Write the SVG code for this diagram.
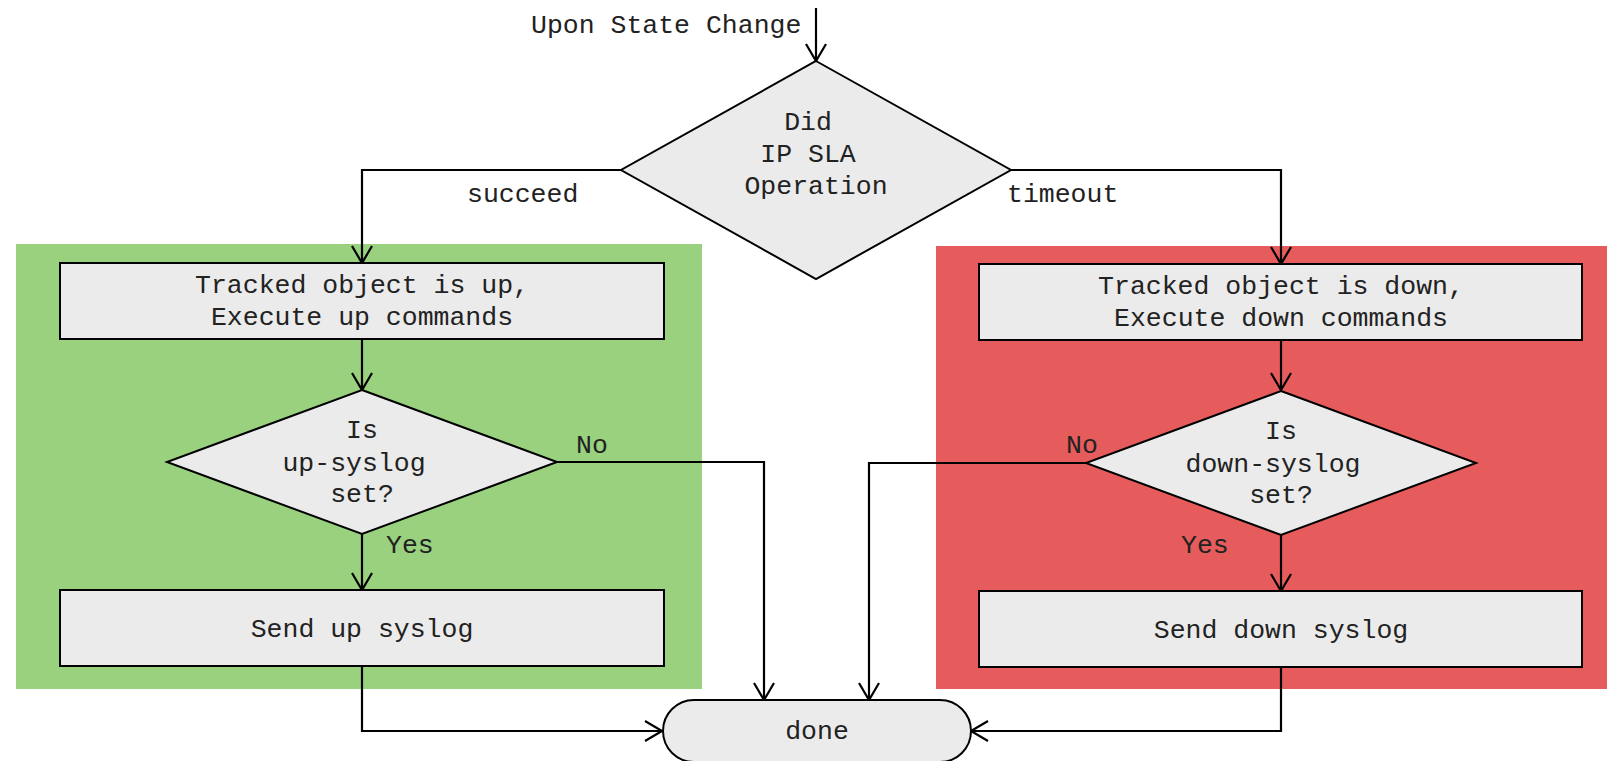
<svg xmlns="http://www.w3.org/2000/svg" width="1607" height="761" viewBox="0 0 1607 761">
<style>
.t{font-family:"Liberation Mono","Courier New",monospace;font-size:26.5px;fill:#222;}
.c{text-anchor:middle;}
.n{fill:#ebebeb;stroke:#000;stroke-width:2;}
.e{fill:none;stroke:#000;stroke-width:2.2;}
</style>
<defs>
<marker id="a" markerUnits="userSpaceOnUse" markerWidth="22" markerHeight="24" viewBox="0 0 22 24" refX="19" refY="12" orient="auto">
<path d="M2,2 L19,12 L2,22" fill="none" stroke="#000" stroke-width="2.2"/>
</marker>
</defs>
<rect x="16" y="244" width="686" height="445" fill="#9ad17f"/>
<rect x="936" y="246" width="671" height="443" fill="#e65c5c"/>
<g id="connectors">
<path class="e" d="M816,8 L816,61" marker-end="url(#a)"/>
<path class="e" d="M621,170 L362,170 L362,263" marker-end="url(#a)"/>
<path class="e" d="M1011,170 L1281,170 L1281,264" marker-end="url(#a)"/>
<path class="e" d="M362,339 L362,390" marker-end="url(#a)"/>
<path class="e" d="M362,534 L362,590" marker-end="url(#a)"/>
<path class="e" d="M557,462 L764,462 L764,700" marker-end="url(#a)"/>
<path class="e" d="M362,666 L362,731 L662,731" marker-end="url(#a)"/>
<path class="e" d="M1281,340 L1281,390" marker-end="url(#a)"/>
<path class="e" d="M1281,535 L1281,591" marker-end="url(#a)"/>
<path class="e" d="M1086,463 L869,463 L869,700" marker-end="url(#a)"/>
<path class="e" d="M1281,667 L1281,731 L971,731" marker-end="url(#a)"/>
<text class="t" x="531" y="33">Upon State Change</text>
<text class="t" x="467" y="202">succeed</text>
<text class="t" x="1007" y="202">timeout</text>
<text class="t" x="576" y="453">No</text>
<text class="t" x="386" y="553">Yes</text>
<text class="t" x="1066" y="453">No</text>
<text class="t" x="1181" y="553">Yes</text>
</g>
<g id="decision-ipsla">
<polygon class="n" points="816,61 1011,170 816,279 621,170"/>
<text class="t c" x="808" y="130">Did</text>
<text class="t c" x="808" y="162">IP SLA</text>
<text class="t c" x="816" y="194">Operation</text>
</g>
<g id="tracked-up">
<rect class="n" x="60" y="263" width="604" height="76"/>
<text class="t c" x="362" y="293">Tracked object is up,</text>
<text class="t c" x="362" y="325">Execute up commands</text>
</g>
<g id="is-up-syslog">
<polygon class="n" points="362,390 557,462 362,534 167,462"/>
<text class="t c" x="362" y="438">Is</text>
<text class="t c" x="354" y="471">up-syslog</text>
<text class="t c" x="362" y="502">set?</text>
</g>
<g id="send-up">
<rect class="n" x="60" y="590" width="604" height="76"/>
<text class="t c" x="362" y="637">Send up syslog</text>
</g>
<g id="tracked-down">
<rect class="n" x="979" y="264" width="603" height="76"/>
<text class="t c" x="1281" y="294">Tracked object is down,</text>
<text class="t c" x="1281" y="326">Execute down commands</text>
</g>
<g id="is-down-syslog">
<polygon class="n" points="1281,391 1476,463 1281,535 1086,463"/>
<text class="t c" x="1281" y="439">Is</text>
<text class="t c" x="1273" y="472">down-syslog</text>
<text class="t c" x="1281" y="503">set?</text>
</g>
<g id="send-down">
<rect class="n" x="979" y="591" width="603" height="76"/>
<text class="t c" x="1281" y="638">Send down syslog</text>
</g>
<g id="done">
<rect class="n" x="663" y="700" width="308" height="62" rx="31" ry="31"/>
<text class="t c" x="817" y="739">done</text>
</g>
</svg>
